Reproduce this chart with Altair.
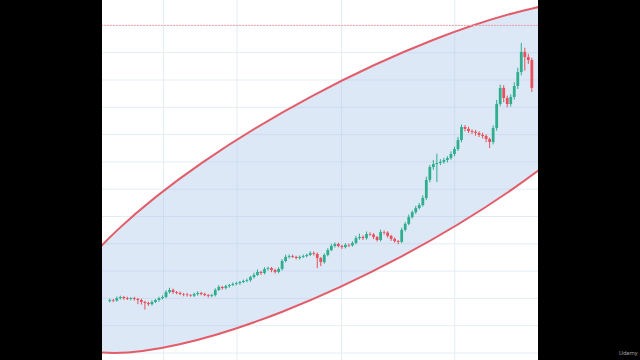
import altair as alt
import pandas as pd
import numpy as np

# ---- data (price units; 1 grid step = 10) ----
first_open = 119.0
closes = [
    119.4, 119.2, 120.1, 120.5, 120.1, 119.8, 120.1, 119.8, 119.4, 118.7,
    118.3, 117.9, 118.7, 119.4, 120.1, 120.5, 122.3, 123.1, 122.3, 122.0,
    121.6, 121.4, 121.2, 121.0, 121.6, 122.0, 121.6, 121.2, 120.9, 121.2,
    123.1, 124.2, 123.8, 124.5, 124.9, 125.3, 125.6, 126.0, 126.4, 126.7,
    127.8, 128.6, 129.7, 129.3, 130.8, 131.1, 130.4, 129.7, 130.8, 133.7,
    135.2, 135.5, 135.2, 134.8, 135.2, 135.5, 135.9, 136.6, 136.3, 134.8,
    133.3, 135.9, 137.7, 139.2, 139.9, 139.2, 138.8, 139.6, 139.4, 140.3,
    142.1, 142.5, 142.1, 143.6, 143.4, 142.5, 141.4, 144.3, 144.1, 142.9,
    141.8, 141.0, 140.7, 145.1, 147.3, 149.8, 151.6, 153.1, 154.2, 156.8,
    163.4, 168.1, 169.2, 169.6, 170.0, 170.7, 171.4, 172.9, 174.7, 178.0,
    182.8, 182.1, 181.3, 181.0, 180.6, 179.9, 179.5, 178.4, 177.3, 182.4,
    191.2, 197.1, 193.4, 191.2, 193.8, 197.8, 202.9, 210.3, 208.4, 207.3, 197.1,
]
wick_up = [
    0.5, 0.4, 0.6, 0.5, 0.4, 0.5, 0.4, 0.5, 0.4, 0.5,
    0.4, 0.5, 0.6, 0.4, 0.5, 0.6, 0.7, 0.8, 0.5, 0.4,
    0.5, 0.4, 0.6, 0.4, 0.5, 0.6, 0.4, 0.5, 0.4, 0.5,
    0.6, 0.7, 0.4, 0.5, 0.4, 0.6, 0.5, 0.4, 0.5, 0.6,
    0.5, 0.8, 0.9, 0.4, 0.6, 0.5, 0.4, 0.5, 0.6, 0.7,
    0.8, 0.6, 0.5, 0.4, 0.5, 0.6, 0.5, 0.7, 0.6, 0.5,
    0.4, 0.6, 0.7, 0.8, 0.6, 0.5, 0.4, 0.6, 0.5, 0.6,
    0.8, 1.2, 0.6, 0.9, 0.6, 0.5, 0.4, 0.9, 0.6, 0.5,
    0.4, 0.5, 0.4, 0.8, 0.7, 0.9, 0.6, 0.8, 0.7, 1.0,
    1.2, 0.8, 1.5, 3.4, 1.0, 0.8, 0.7, 1.0, 0.9, 1.2,
    0.9, 0.7, 0.8, 0.6, 0.7, 0.6, 0.8, 0.6, 0.5, 1.0,
    1.5, 1.2, 1.0, 0.9, 1.0, 1.4, 1.6, 3.3, 1.5, 1.2, 0.8,
]
wick_dn = [
    0.5, 0.6, 0.4, 0.5, 0.6, 0.4, 0.5, 0.6, 1.5, 1.0,
    2.4, 0.6, 0.5, 0.4, 0.6, 0.5, 0.4, 0.5, 0.6, 0.5,
    0.4, 0.6, 0.5, 0.4, 0.5, 0.6, 0.5, 0.4, 0.6, 0.5,
    0.5, 0.4, 0.6, 0.5, 0.6, 0.4, 0.5, 0.6, 0.4, 0.5,
    0.6, 0.5, 0.4, 0.7, 0.5, 0.6, 0.8, 0.6, 0.5, 0.6,
    0.5, 0.6, 0.4, 0.5, 0.6, 0.4, 0.5, 0.4, 0.6, 3.7,
    1.5, 0.6, 0.5, 0.4, 0.6, 0.5, 0.7, 0.5, 0.6, 0.4,
    0.5, 0.6, 0.7, 0.6, 0.5, 0.8, 0.6, 0.5, 0.7, 0.6,
    0.7, 0.6, 0.9, 0.5, 0.6, 0.5, 0.6, 0.7, 0.5, 0.6,
    0.8, 0.9, 1.0, 6.6, 0.8, 0.7, 0.9, 0.6, 0.8, 0.7,
    0.8, 0.9, 0.7, 0.8, 1.0, 0.8, 0.9, 1.2, 2.2, 0.9,
    1.0, 0.8, 1.6, 1.2, 0.9, 1.0, 1.1, 1.2, 5.0, 1.4, 1.5,
]
vgrid_idx = [15.3, 36.2, 65.9, 98.1]
hgrid_prices = [100, 110, 120, 130, 140, 150, 160, 170, 180, 190, 200, 210, 220]
alert_price = [220]
ellipse_center = {"i": [70.3], "p": [164.8]}

# ---- table ----
opens = [first_open] + closes[:-1]
df = pd.DataFrame({"i": range(len(closes)), "open": opens, "close": closes})
df["high"] = df[["open", "close"]].max(axis=1) + np.array(wick_up)
df["low"] = df[["open", "close"]].min(axis=1) - np.array(wick_dn)
df["dir"] = np.where(df["close"] >= df["open"], "up", "down")

xs = alt.Scale(domain=[-0.78, 120.33], nice=False, zero=False)
ys = alt.Scale(domain=[97.44, 229.3], nice=False, zero=False)
col = alt.Color("dir:N", scale=alt.Scale(domain=["up", "down"], range=["#2eae8e", "#e8505c"]), legend=None)

hgrid = alt.Chart(pd.DataFrame({"p": hgrid_prices})).mark_rule(color="#e4edf4", strokeWidth=1).encode(
    y=alt.Y("p:Q", scale=ys, axis=None))
vgrid = alt.Chart(pd.DataFrame({"i": vgrid_idx})).mark_rule(color="#e4edf4", strokeWidth=1).encode(
    x=alt.X("i:Q", scale=xs, axis=None))

r = 0.2743
k = 0.5523
kr = round(k * r, 4)
ell_path = (f"M -1 0 C -1 -{kr} -{k} -{r} 0 -{r} C {k} -{r} 1 -{kr} 1 0 "
            f"C 1 {kr} {k} {r} 0 {r} C -{k} {r} -1 {kr} -1 0 Z")
ell = alt.Chart(pd.DataFrame(ellipse_center)).mark_point(
    shape=ell_path, size=448100, angle=332, filled=True, fill="#a9c6e8", fillOpacity=0.4,
    stroke="#e25c6a", strokeWidth=2, strokeOpacity=1, opacity=1, clip=True
).encode(x=alt.X("i:Q", scale=xs, axis=None), y=alt.Y("p:Q", scale=ys, axis=None))

alert = alt.Chart(pd.DataFrame({"p": alert_price})).mark_rule(
    color="#f0a4ac", strokeDash=[2, 1], strokeWidth=1).encode(y=alt.Y("p:Q", scale=ys, axis=None))

wicks = alt.Chart(df).mark_rule(strokeWidth=1).encode(
    x=alt.X("i:Q", scale=xs, axis=None),
    y=alt.Y("low:Q", scale=ys, axis=None), y2="high:Q", color=col)
bodies = alt.Chart(df).mark_bar(size=2.8).encode(
    x=alt.X("i:Q", scale=xs, axis=None),
    y=alt.Y("open:Q", scale=ys, axis=None), y2="close:Q", color=col)

wm = alt.Chart(pd.DataFrame({"t": ["Udemy"]})).mark_text(
    align="left", baseline="middle", fontSize=6, color="#9a9a9a", font="Roboto", clip=False
).encode(x=alt.value(517), y=alt.value(353), text="t:N")

chart = alt.layer(hgrid, vgrid, ell, alert, wicks, bodies, wm).properties(
    width=436, height=360, background="black",
    padding={"left": 102, "right": 102, "top": 0, "bottom": 0},
    autosize=alt.AutoSizeParams(type="none"),
).configure_view(fill="white", strokeWidth=0)

chart.save("out.html", embed_options={"renderer": "svg", "actions": False})
